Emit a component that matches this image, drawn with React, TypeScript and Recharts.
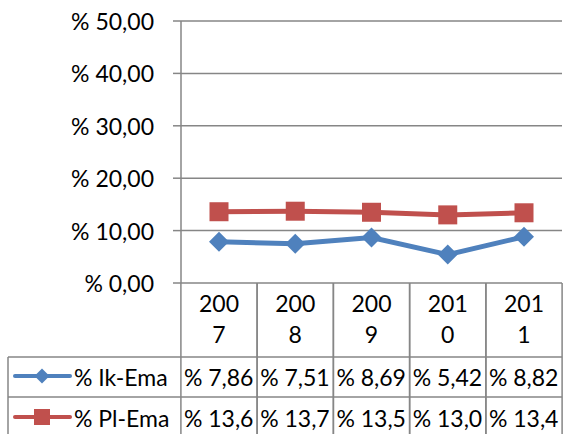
import React from "react";
import { LineChart, Line, XAxis, YAxis, CartesianGrid } from "recharts";

// Excel 2007 default palette
const BLUE = "#4F81BD";
const RED = "#C0504D";
const GRID = "#868686";
const FONT = "Lato, 'Open Sans', sans-serif";
const FS = 23;

const years = ["2007", "2008", "2009", "2010", "2011"];
const yearLines = [
  ["200", "7"],
  ["200", "8"],
  ["200", "9"],
  ["201", "0"],
  ["201", "1"],
];
const ikEma = [7.86, 7.51, 8.69, 5.42, 8.82];
const plEma = [13.6, 13.7, 13.5, 13.0, 13.4];
const ikLabels = ["% 7,86", "% 7,51", "% 8,69", "% 5,42", "% 8,82"];
const plLabels = ["% 13,6", "% 13,7", "% 13,5", "% 13,0", "% 13,4"];
const yTicks = [0, 10, 20, 30, 40, 50];

const data = years.map((y, i) => ({ year: y, ik: ikEma[i], pl: plEma[i] }));

const TABLE_TOP = 283;
const ROW2 = 357;
const ROW3 = 397;
const BOTTOM = 440;
const TABLE_LEFT = 8;
const HALF = 38.1;

function Diamond({ cx, cy, r = 9.5, fill }: any) {
  if (cx == null || cy == null) return null;
  return (
    <path
      d={`M${cx},${cy - r}L${cx + r},${cy}L${cx},${cy + r}L${cx - r},${cy}Z`}
      fill={fill}
    />
  );
}

function Square({ cx, cy, s = 19, fill }: any) {
  if (cx == null || cy == null) return null;
  return <rect x={cx - s / 2} y={cy - s / 2} width={s} height={s} fill={fill} />;
}

function YTick({ x, y, payload }: any) {
  const v = Number(payload.value);
  return (
    <text x={x} y={y + 9} textAnchor="end" fontSize={FS} fontFamily={FONT} fill="#000">
      {`% ${v.toFixed(2).replace(".", ",")}`}
    </text>
  );
}

function TableTick({ x, index }: any) {
  const l = x - HALF;
  const r = x + HALF;
  const clipId = `cell-${index}`;
  return (
    <g>
      <defs>
        <clipPath id={clipId}>
          <rect x={l + 1} y={ROW2} width={r - l - 2} height={BOTTOM - ROW2} />
        </clipPath>
      </defs>
      <line x1={l} y1={TABLE_TOP} x2={l} y2={BOTTOM} stroke={GRID} strokeWidth={1.5} />
      <line x1={r} y1={TABLE_TOP} x2={r} y2={BOTTOM} stroke={GRID} strokeWidth={1.5} />
      <line x1={l} y1={ROW2} x2={r} y2={ROW2} stroke={GRID} strokeWidth={1.5} />
      <line x1={l} y1={ROW3} x2={r} y2={ROW3} stroke={GRID} strokeWidth={1.5} />
      <text x={x} y={312} textAnchor="middle" fontSize={FS} fontFamily={FONT} fill="#000">
        {yearLines[index][0]}
      </text>
      <text x={x} y={343} textAnchor="middle" fontSize={FS} fontFamily={FONT} fill="#000">
        {yearLines[index][1]}
      </text>
      <g clipPath={`url(#${clipId})`}>
        <text x={l + 3} y={386} fontSize={FS} fontFamily={FONT} fill="#000">
          {ikLabels[index]}
        </text>
        <text x={l + 3} y={427} fontSize={FS} fontFamily={FONT} fill="#000">
          {plLabels[index]}
        </text>
      </g>
      {index === 0 && (
        <g>
          <line x1={TABLE_LEFT} y1={ROW2} x2={l} y2={ROW2} stroke={GRID} strokeWidth={1.5} />
          <line x1={TABLE_LEFT} y1={ROW3} x2={l} y2={ROW3} stroke={GRID} strokeWidth={1.5} />
          <line x1={TABLE_LEFT} y1={ROW2} x2={TABLE_LEFT} y2={BOTTOM} stroke={GRID} strokeWidth={1.5} />
          <line x1={15} y1={376} x2={70} y2={376} stroke={BLUE} strokeWidth={4} strokeLinecap="round" />
          <Diamond cx={42} cy={376} r={7.5} fill={BLUE} />
          <text x={74} y={386} fontSize={FS} fontFamily={FONT} fill="#000">
            % Ik-Ema
          </text>
          <line x1={15} y1={417} x2={70} y2={417} stroke={RED} strokeWidth={4} strokeLinecap="round" />
          <Square cx={42} cy={417} s={16} fill={RED} />
          <text x={74} y={427} fontSize={FS} fontFamily={FONT} fill="#000">
            % Pl-Ema
          </text>
        </g>
      )}
    </g>
  );
}

export default function App() {
  return (
    <div
      style={{
        position: "fixed",
        left: 0,
        top: 0,
        width: 564,
        height: 434,
        background: "#fff",
        overflow: "hidden",
      }}
    >
      <LineChart
        width={564}
        height={434}
        data={data}
        margin={{ top: 21, right: 2, left: 0, bottom: 0 }}
      >
        <CartesianGrid vertical={false} stroke={GRID} strokeWidth={1.5} />
        <XAxis
          dataKey="year"
          height={151}
          padding={{ left: 38, right: 38 }}
          axisLine={false}
          tickLine={false}
          tickSize={0}
          tickMargin={0}
          interval={0}
          tick={<TableTick />}
        />
        <YAxis
          width={181}
          domain={[0, 50]}
          ticks={yTicks}
          interval={0}
          tickSize={8}
          tickMargin={19}
          axisLine={{ stroke: GRID, strokeWidth: 1.5 }}
          tickLine={{ stroke: GRID, strokeWidth: 1.5 }}
          tick={<YTick />}
        />
        <Line
          dataKey="pl"
          stroke={RED}
          strokeWidth={5}
          isAnimationActive={false}
          dot={<Square fill={RED} s={19} />}
          activeDot={false}
        />
        <Line
          dataKey="ik"
          stroke={BLUE}
          strokeWidth={5}
          isAnimationActive={false}
          dot={<Diamond fill={BLUE} r={10} />}
          activeDot={false}
        />
      </LineChart>
    </div>
  );
}
